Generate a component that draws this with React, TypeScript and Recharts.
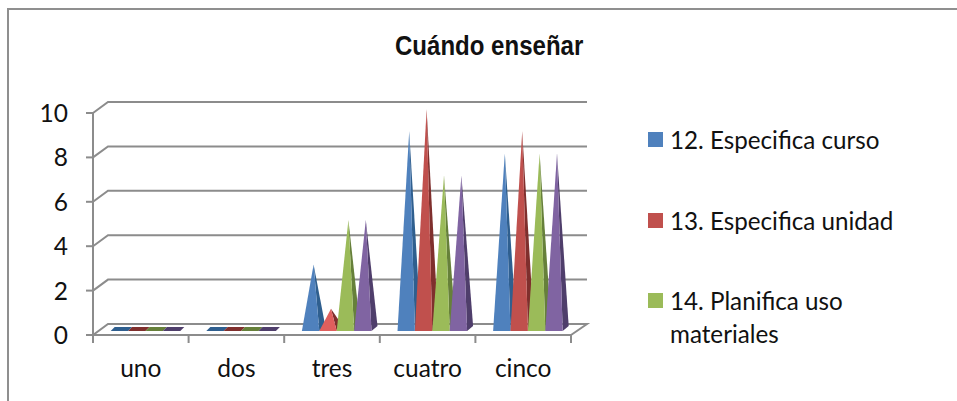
import React from 'react'
import { BarChart, Bar, XAxis, YAxis, CartesianGrid, Legend } from 'recharts'

const categories = ['uno', 'dos', 'tres', 'cuatro', 'cinco']
const curso = [0, 0, 3, 9, 8]
const unidad = [0, 0, 1, 10, 9]
const materiales = [0, 0, 5, 7, 8]
const cuarta = [0, 0, 5, 7, 8]
const yTicks = [0, 2, 4, 6, 8, 10]

const chartData = categories.map((name, i) => ({
    name,
    curso: curso[i],
    unidad: unidad[i],
    materiales: materiales[i],
    cuarta: cuarta[i],
}))

const FONT = 'Lato, sans-serif'
const AXIS = '#8c8c8c'
const LEFT = 93
const RIGHT = 571
const TOP = 113
const BOTTOM = 335
const BAND = (RIGHT - LEFT) / categories.length
const LEGEND_WIDTH = 270

// fake 3D: the wall sits up and to the right of the front axis
function WallLine({ y1 }: any) {
    const isFloor = Math.abs(y1 - BOTTOM) < 1
    const pts = `${isFloor ? `${LEFT},${TOP} ` : ''}${LEFT},${y1} ${LEFT + 15},${y1 - 11} ${RIGHT + 16},${y1 - 11}${isFloor ? ` ${RIGHT},${y1}` : ''}`
    return <polyline key={y1} points={pts} fill="none" stroke={AXIS} strokeWidth={2} />
}

function XTick({ x, index, payload }: any) {
    const last = index === categories.length - 1
    return (
        <g>
            <line x1={x - BAND / 2} x2={x - BAND / 2} y1={BOTTOM} y2={BOTTOM + 8} stroke={AXIS} strokeWidth={2} />
            {last && <line x1={x + BAND / 2} x2={x + BAND / 2} y1={BOTTOM} y2={BOTTOM + 8} stroke={AXIS} strokeWidth={2} />}
            <text x={x} y={377} textAnchor="middle" fontFamily={FONT} fontSize={24.5} fill="#111">
                {payload.value}
            </text>
        </g>
    )
}

function YTick({ y, payload }: any) {
    return (
        <text x={68} y={y + 9} textAnchor="end" fontFamily={FONT} fontSize={24.5} fill="#111">
            {payload.value}
        </text>
    )
}

function Pyramid({ x, y, width, height, fill, dark, light }: any) {
    const left = x + 4.7
    const right = left + width
    const base = y + height - 4
    const top = y - 4
    if (height < 1) {
        return <polygon points={`${left},${base} ${right},${base} ${right + 4},${base - 4} ${left + 4},${base - 4}`} fill={dark} />
    }
    const apexX = left + width / 2 + 3
    return (
        <g>
            <polygon points={`${right},${base} ${right + 6},${base - 5} ${apexX},${top}`} fill={dark} />
            <polygon points={`${left},${base} ${right},${base} ${apexX},${top}`} fill={height < 30 && light ? light : fill} />
        </g>
    )
}

function LegendBox({ payload }: any) {
    const items = payload.filter((item: any) => item.type !== 'none')
    return (
        <div style={{ fontFamily: FONT, fontSize: 24.2, lineHeight: '33px', color: '#111' }}>
            {items.map((item: any, i: number) => (
                <div key={item.value} style={{ position: 'absolute', left: 0, top: [0, 81, 161][i], width: 260 }}>
                    <span style={{ position: 'absolute', left: 0, top: 9, width: 15, height: 15, background: item.color }} />
                    <div style={{ marginLeft: 22 }}>{item.value}</div>
                </div>
            ))}
        </div>
    )
}

export default function App() {
    return (
        <div style={{ position: 'absolute', left: 0, top: 0, width: 957, height: 401, background: '#fff', overflow: 'hidden' }}>
            <div style={{ position: 'absolute', left: 7, top: 8, right: -4, bottom: -4, border: '2px solid #8f8f8f' }} />
            {/* no narrow bold installed, so squeeze Liberation Sans */}
            <div style={{ position: 'absolute', left: 395, top: 31, fontFamily: '"Liberation Sans", sans-serif', fontWeight: 700, fontSize: 27, color: '#111', whiteSpace: 'nowrap', transform: 'scaleX(0.89)', transformOrigin: 'left top' }}>
                Cuándo enseñar
            </div>
            <BarChart
                width={957}
                height={401}
                data={chartData}
                barSize={17.4}
                barGap={0}
                margin={{ top: TOP, left: LEFT - 43, right: 957 - RIGHT - LEGEND_WIDTH, bottom: 401 - BOTTOM - 40 }}
                style={{ position: 'absolute', left: 0, top: 0 }}
            >
                <CartesianGrid vertical={false} horizontal={WallLine as any} />
                <XAxis dataKey="name" height={40} interval={0} axisLine={{ stroke: AXIS, strokeWidth: 2 }} tickLine={false} tick={<XTick />} />
                <YAxis width={43} domain={[0, 10]} ticks={yTicks} tickSize={7} axisLine={{ stroke: AXIS, strokeWidth: 2 }} tickLine={{ stroke: AXIS, strokeWidth: 2 }} tick={<YTick />} />
                <Legend
                    layout="vertical"
                    align="right"
                    verticalAlign="top"
                    content={<LegendBox />}
                    wrapperStyle={{ position: 'absolute', left: 648, top: 123, width: LEGEND_WIDTH, height: 240 }}
                />
                <Bar dataKey="curso" name="12. Especifica curso" fill="#4f81bd" isAnimationActive={false} shape={<Pyramid dark="#2f5f8f" />} />
                <Bar dataKey="unidad" name="13. Especifica unidad" fill="#c0504d" isAnimationActive={false} shape={<Pyramid dark="#7f2f2d" light="#e05f5d" />} />
                <Bar dataKey="materiales" name="14. Planifica uso materiales" fill="#9bbb59" isAnimationActive={false} shape={<Pyramid dark="#66803a" />} />
                <Bar dataKey="cuarta" legendType="none" fill="#8064a2" isAnimationActive={false} shape={<Pyramid dark="#4f3e6b" />} />
            </BarChart>
        </div>
    )
}
